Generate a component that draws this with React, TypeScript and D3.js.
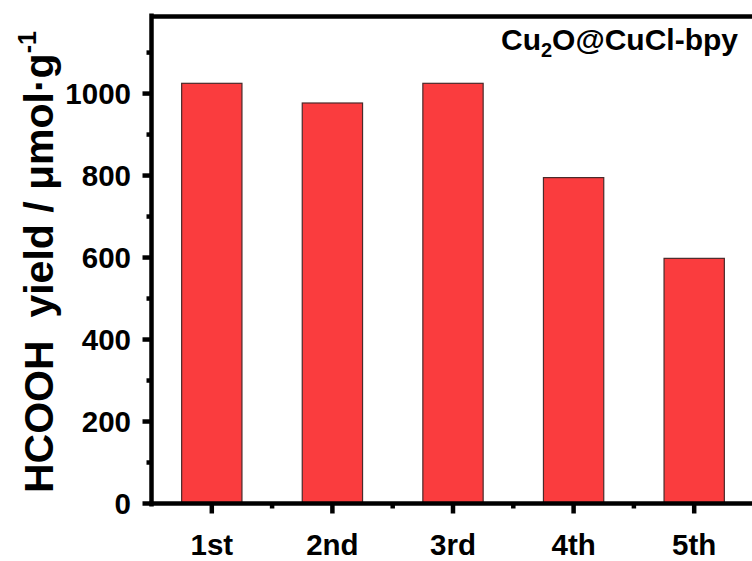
import React from "react";
import * as d3 from "d3";

const categories = ["1st", "2nd", "3rd", "4th", "5th"];
const yields = [1025, 977, 1025, 795, 598];
const yMajorTicks = [0, 200, 400, 600, 800, 1000];
const yMinorTicks = [100, 300, 500, 700, 900, 1100];
const xMinorTicks = [1.5, 2.5, 3.5, 4.5];

const W = 752;
const H = 561;
const FONT = "'Liberation Sans', Arial, Helvetica, sans-serif";

export default function App() {
  const yMax = 1188;
  const y = d3.scaleLinear().domain([0, yMax]).range([503.5, 16.5]);
  const x = d3.scaleLinear().domain([0.5, 5.5]).range([151.5, 754.5]);
  const step = x(2) - x(1);
  const barW = step * 0.5;
  const axisW = 4.5;
  const x0 = x(0.5);
  const y0 = y(0);

  return (
    <svg
      width={W}
      height={H}
      style={{ position: "absolute", left: 0, top: 0, background: "#fff" }}
      fontFamily={FONT}
    >
      <rect x={0} y={0} width={W} height={H} fill="#fff" />
      {yields.map((v, i) => (
        <rect
          key={categories[i]}
          x={x(i + 1) - barW / 2}
          y={y(v)}
          width={barW}
          height={y0 - y(v)}
          fill="#FA3C3E"
          stroke="#4a2a2a"
          strokeWidth={1.2}
        />
      ))}
      {/* top frame */}
      <line x1={x0} x2={W} y1={y(yMax)} y2={y(yMax)} stroke="#000" strokeWidth={axisW} />
      {/* y axis */}
      <line x1={x0} x2={x0} y1={y(yMax) - 3} y2={y0 + 3} stroke="#000" strokeWidth={axisW} />
      {/* x axis */}
      <line x1={x0 - 2} x2={W} y1={y0} y2={y0} stroke="#000" strokeWidth={axisW} />
      {yMajorTicks.map((t) => (
        <g key={"ym" + t}>
          <line x1={x0 - 9} x2={x0} y1={y(t)} y2={y(t)} stroke="#000" strokeWidth={axisW} />
          <text
            x={131}
            y={y(t)}
            dy="0.36em"
            textAnchor="end"
            fontSize={29.5}
            fontWeight="bold"
            fill="#000"
          >
            {t}
          </text>
        </g>
      ))}
      {yMinorTicks.map((t) => (
        <line key={"yn" + t} x1={x0 - 5} x2={x0} y1={y(t)} y2={y(t)} stroke="#000" strokeWidth={axisW} />
      ))}
      {categories.map((c, i) => (
        <g key={"xm" + c}>
          <line x1={x(i + 1)} x2={x(i + 1)} y1={y0} y2={y0 + 10} stroke="#000" strokeWidth={axisW} />
          <text
            x={x(i + 1)}
            y={555}
            textAnchor="middle"
            fontSize={29.5}
            fontWeight="bold"
            fill="#000"
          >
            {c}
          </text>
        </g>
      ))}
      {xMinorTicks.map((t) => (
        <line key={"xn" + t} x1={x(t)} x2={x(t)} y1={y0} y2={y0 + 5} stroke="#000" strokeWidth={axisW} />
      ))}
      {/* y axis title */}
      <text
        transform="translate(53,493) rotate(-90)"
        fontSize={41}
        fontWeight="bold"
        fill="#000"
        style={{ whiteSpace: "pre" }}
      >
        {"HCOOH  yield / μmol·g"}
        <tspan fontSize={25} dy={-17}>{"-1"}</tspan>
      </text>
      {/* annotation */}
      <text x={738} y={50} textAnchor="end" fontSize={30} fontWeight="bold" fill="#000">
        Cu<tspan fontSize={20} dy={7}>2</tspan>
        <tspan dy={-7}>O@CuCl-bpy</tspan>
      </text>
    </svg>
  );
}
